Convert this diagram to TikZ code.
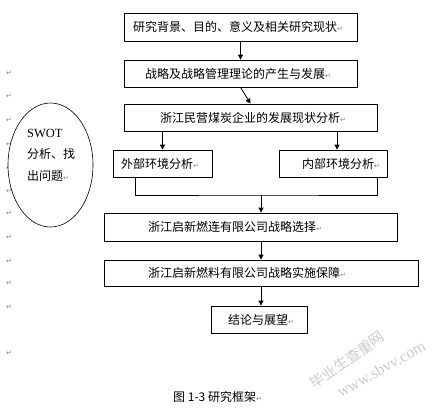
\documentclass[tikz,border=0pt]{standalone}
\usepackage{fontspec}
\setmainfont{Liberation Serif}
\newfontfamily\cjk{Noto Sans CJK SC}
\newfontfamily\symfont{DejaVu Sans}
\newfontfamily\wmserif{Liberation Serif}
\usetikzlibrary{arrows.meta,shapes.geometric}
\newcommand{\retmark}{{\symfont\color{gray}\fontsize{7}{7}\selectfont ↵}}
\begin{document}
\begin{tikzpicture}[x=1pt,y=1pt,
  box/.style={draw,line width=0.8pt,inner sep=0pt},
  txt/.style={anchor=west,inner sep=0pt,font=\cjk\fontsize{12}{14}\selectfont},
  arr/.style={line width=0.8pt,-{Triangle[width=5pt,length=5pt]}},
  ln/.style={line width=0.8pt},
  retm/.style={inner sep=0pt,font=\symfont\fontsize{7}{7}\selectfont,text=gray},
  wm/.style={inner sep=0pt,text=gray!40}]
\useasboundingbox (0,0) rectangle (436,-407);
% left paragraph marks
\foreach \yy [count=\i] in {73,96,120,144,168,191,213,237,261,283,307,353}
  \node[retm] (r\i) at (9,-\yy) {↵};
% ellipse
\node[draw,ellipse,fill=white,line width=0.6pt,minimum width=85pt,minimum height=124pt,inner sep=0pt] (el) at (50.5,-165) {};
\node[anchor=west,inner sep=0pt,font=\wmserif\fontsize{12.5}{14}\selectfont] (e1) at (27,-133) {SWOT};
\node[txt] (e2) at (27,-154) {分析、找};
\node[txt] (e3) at (27,-176) {出问题\retmark};
% boxes
\node[box,minimum width=233pt,minimum height=28pt] (b1) at (240.5,-27) {};
\node[box,minimum width=233pt,minimum height=27pt] (b2) at (240.5,-73.5) {};
\node[box,minimum width=253pt,minimum height=27pt] (b3) at (250.5,-117.5) {};
\node[box,minimum width=99pt,minimum height=27pt] (b4) at (162.5,-163.5) {};
\node[box,minimum width=108pt,minimum height=27pt] (b5) at (333,-163.5) {};
\node[box,minimum width=293pt,minimum height=28pt] (b6) at (250.5,-227) {};
\node[box,minimum width=314pt,minimum height=26pt] (b7) at (261,-273) {};
\node[box,minimum width=96pt,minimum height=27pt] (b8) at (259,-319.5) {};
% texts
\node[txt] (t1) at (133,-27) {研究背景、目的、意义及相关研究现状\retmark};
\node[txt] (t2) at (145,-73.5) {战略及战略管理理论的产生与发展\retmark};
\node[txt] (t3) at (160,-117.5) {浙江民营煤炭企业的发展现状分析\retmark};
\node[txt] (t4) at (121,-163.5) {外部环境分析\retmark};
\node[txt] (t5) at (302,-163.5) {内部环境分析\retmark};
\node[txt] (t6) at (148,-227) {浙江启新燃连有限公司战略选择\retmark};
\node[txt] (t7) at (148,-273) {浙江启新燃料有限公司战略实施保障\retmark};
\node[txt] (t8) at (228,-319.5) {结论与展望\retmark};
% connectors
\draw[arr] (b1.south) -- (b2.north);
\draw[arr] (b2.south) -- (b3.north);
\draw[arr] (b3.south -| b4.north) -- (b4.north);
\draw[arr] ([xshift=4pt]b3.south -| b5.north) -- ([xshift=4pt]b5.north);
\coordinate (m) at (261,-195);
\coordinate (p4) at ([xshift=-27.5pt]b4.south);
\coordinate (p5) at ([xshift=44pt]b5.south);
\draw[ln] (p4) |- (m) -| (p5);
\draw[arr] (m) -- (b6.north -| m);
\draw[arr] (b6.south -| m) -- (b7.north -| m);
\draw[arr] (b7.south -| m) -- (b8.north -| m);
% caption
\node[txt] (cap) at (173,-397) {图 1-3 研究框架\retmark};
% watermark
\node[wm,rotate=35,font=\cjk\fontsize{14.5}{14.5}\selectfont] (w1) at (347,-360) {毕业生查重网};
\node[wm,rotate=29,font=\wmserif\fontsize{16}{16}\selectfont] (w2) at (381,-369) {www.sbvv.com};
\end{tikzpicture}
\end{document}
